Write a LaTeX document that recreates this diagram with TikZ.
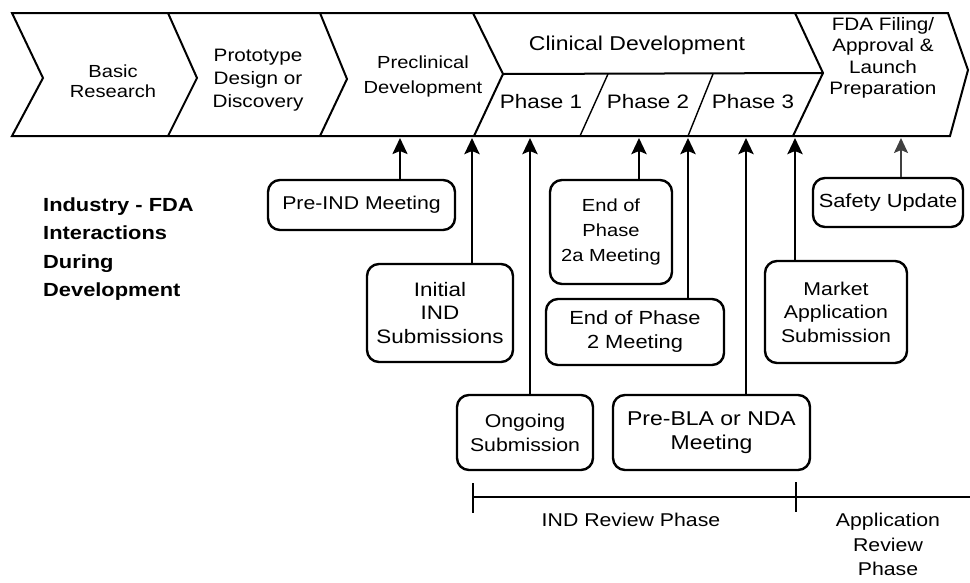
\documentclass[tikz,border=0pt]{standalone}
\usepackage{fontspec}
\setmainfont{Liberation Sans}[FakeStretch=1.15]
\usetikzlibrary{arrows.meta}
\newcommand{\fsz}[2]{\fontsize{#1}{#2}\selectfont}
\tikzset{
  band/.style={line width=2pt, line join=miter},
  boxnode/.style={draw, line width=2.4pt, rounded corners=12pt, align=center, inner sep=0pt},
  lab/.style={align=center, inner sep=0pt},
  arr/.style={line width=2.8pt, -{Stealth[length=16pt,width=15pt,inset=3pt]}},
  arrlight/.style={line width=1.8pt, black!75, -{Stealth[length=15pt,width=14pt,inset=3pt]}},
  tline/.style={line width=2pt},
}
\begin{document}
\begin{tikzpicture}[x=1pt,y=-1pt]
\path[use as bounding box] (0,0) rectangle (970,582);
\clip (0,0) rectangle (970,582);
\fill[white] (0,0) rectangle (970,582);

% chevron band
\draw[band] (12,13) -- (948,13) -- (968,70) -- (950,136) -- (12,136) -- (43,78) -- cycle;
\draw[band] (168,13) -- (197,78) -- (168,136);
\draw[band] (320,13) -- (347,79) -- (320,136);
\draw[band] (473,13) -- (503,74) -- (474,136);
\draw[band] (795,13) -- (823,73) -- (793,136);
\draw[band] (503,74) -- (823,73);
\draw[band, line width=1.4pt] (608,74) -- (580,136);
\draw[band, line width=1.4pt] (713,74) -- (688,136);

% band texts
\node[lab, font=\fsz{17.5}{20}] (basic) at (113,81) {Basic\\Research};
\node[lab, font=\fsz{18}{23}] (proto) at (258,80) {Prototype\\Design or\\Discovery};
\node[lab, font=\fsz{17.5}{25}] (precl) at (423,76) {Preclinical\\Development};
\node[lab, font=\fsz{20}{24}] (clin) at (637,45) {Clinical Development};
\node[lab, font=\fsz{19.5}{23}] (ph1) at (541,102) {Phase 1};
\node[lab, font=\fsz{19.5}{23}] (ph2) at (648,102) {Phase 2};
\node[lab, font=\fsz{19.5}{23}] (ph3) at (753,102) {Phase 3};
\node[lab, font=\fsz{18}{21.5}] (fda) at (883,58) {FDA Filing/\\Approval \&\\Launch\\Preparation};

% left label
\node[lab, align=left, anchor=west, font=\bfseries\fsz{19}{28.6}] (title) at (43,249)
  {Industry - FDA\\Interactions\\During\\Development};

% boxes
\node[boxnode, minimum width=187pt, minimum height=50pt, font=\fsz{18.5}{23}] (preind) at (361.5,205) {Pre-IND Meeting};
\node[boxnode, minimum width=146pt, minimum height=98pt, font=\fsz{19.5}{23.5}] (initial) at (440,313) {Initial\\IND\\Submissions};
\node[boxnode, minimum width=122pt, minimum height=104pt, font=\fsz{17.5}{25}] (eoptwoa) at (611,232) {End of\\Phase\\2a Meeting};
\node[boxnode, minimum width=178pt, minimum height=66pt, font=\fsz{19}{24}] (eoptwo) at (635,332) {End of Phase\\2 Meeting};
\node[boxnode, minimum width=142pt, minimum height=102pt, font=\fsz{18.5}{23.5}] (market) at (836,312) {Market\\Application\\Submission};
\node[boxnode, minimum width=150pt, minimum height=49pt, font=\fsz{19}{23}] (safety) at (888,202.5) {Safety Update};
\node[boxnode, minimum width=136pt, minimum height=75pt, font=\fsz{18.5}{24}] (ongoing) at (525,432.5) {Ongoing\\Submission};
\node[boxnode, minimum width=197pt, minimum height=75pt, font=\fsz{20}{24}] (prebla) at (711.5,432.5) {Pre-BLA or NDA\\Meeting};

% arrow targets on the band
\coordinate (tpreind) at (400,138);
\coordinate (tinitial) at (472,138);
\coordinate (tongoing) at (530,138);
\coordinate (teoptwoa) at (639,138);
\coordinate (teoptwo) at (688,138);
\coordinate (tprebla) at (746,138);
\coordinate (tmarket) at (795,138);
\coordinate (tsafety) at (901,138);

\draw[arr, line width=2.2pt] (preind.north -| tpreind) -- (tpreind);
\draw[arr] (initial.north -| tinitial) -- (tinitial);
\draw[arr] (ongoing.north -| tongoing) -- (tongoing);
\draw[arr] (eoptwoa.north -| teoptwoa) -- (teoptwoa);
\draw[arr] (eoptwo.north -| teoptwo) -- (teoptwo);
\draw[arr] (prebla.north -| tprebla) -- (tprebla);
\draw[arr] (market.north -| tmarket) -- (tmarket);
\draw[arrlight] (safety.north -| tsafety) -- (tsafety);

% review timeline
\coordinate (tlstart) at (473,497);
\coordinate (tlmid) at (796,497);
\coordinate (tlend) at (972,497);
\draw[tline] (tlstart) -- (tlend);
\draw[tline, line width=2.4pt] (tlstart) ++(0,-14) -- ++(0,30);
\draw[tline, line width=2.4pt] (tlmid) ++(0,-15) -- ++(0,30);

\node[lab, font=\fsz{18.5}{23}] (indrev) at (631,520) {IND Review Phase};
\node[lab, font=\fsz{18.5}{24.5}] (apprev) at (888,544.5) {Application\\Review\\Phase};
\end{tikzpicture}
\end{document}
